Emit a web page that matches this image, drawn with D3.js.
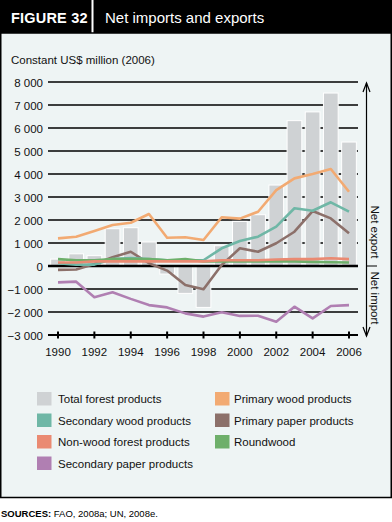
<!DOCTYPE html>
<html>
<head>
<meta charset="utf-8">
<script src="https://cdn.jsdelivr.net/npm/d3@7"></script>
<style>
  html, body { margin: 0; padding: 0; background: #ffffff; }
  svg { display: block; font-family: "Liberation Sans", Arial, Helvetica, sans-serif; }
</style>
</head>
<body>
<svg id="chart" width="392" height="522"></svg>
<script>
// ---------- DATA ----------
const years = [1990,1991,1992,1993,1994,1995,1996,1997,1998,1999,2000,2001,2002,2003,2004,2005,2006];
const totalForest     = [300, 530, 450, 1620, 1665, 1045, -350, -1190, -1800, 880, 1940, 2230, 3520, 6320, 6700, 7520, 5390];
const primaryWood     = [1200, 1270, 1520, 1780, 1880, 2260, 1230, 1250, 1130, 2120, 2060, 2360, 3300, 3810, 4000, 4220, 3230];
const secondaryWood   = [120, 60, 60, 300, 350, 300, 250, 250, 250, 770, 1090, 1275, 1710, 2510, 2400, 2770, 2360];
const primaryPaper    = [-170, -150, 90, 380, 620, 120, -200, -830, -1010, 40, 770, 620, 990, 1490, 2390, 2070, 1420];
const nonWood         = [150, 150, 200, 200, 200, 200, 200, 200, 200, 250, 250, 250, 280, 300, 300, 340, 300];
const roundwood       = [300, 250, 250, 300, 300, 300, 250, 300, 200, 200, 200, 200, 200, 200, 180, 160, 150];
const secondaryPaper  = [-710, -680, -1360, -1140, -1430, -1700, -1800, -2060, -2200, -2010, -2170, -2160, -2420, -1770, -2280, -1740, -1700];
const yTicks = [-3000, -2000, -1000, 0, 1000, 2000, 3000, 4000, 5000, 6000, 7000, 8000];
const xTickYears = [1990, 1992, 1994, 1996, 1998, 2000, 2002, 2004, 2006];

const lineSeries = [
  { name: "Secondary paper products", values: secondaryPaper, color: "#b07fb2" },
  { name: "Primary paper products",   values: primaryPaper,   color: "#8c706a" },
  { name: "Secondary wood products",  values: secondaryWood,  color: "#6fb7a6" },
  { name: "Primary wood products",    values: primaryWood,    color: "#f2aa72" },
  { name: "Roundwood",                values: roundwood,      color: "#6eaf6a" },
  { name: "Non-wood forest products", values: nonWood,        color: "#ea8a72" }
];

const legendItems = [
  { name: "Total forest products",     color: "#cfd2d4", col: 0, row: 0 },
  { name: "Secondary wood products",   color: "#6fb7a6", col: 0, row: 1 },
  { name: "Non-wood forest products",  color: "#ea8a72", col: 0, row: 2 },
  { name: "Secondary paper products",  color: "#b07fb2", col: 0, row: 3 },
  { name: "Primary wood products",     color: "#f2aa72", col: 1, row: 0 },
  { name: "Primary paper products",    color: "#8c706a", col: 1, row: 1 },
  { name: "Roundwood",                 color: "#6eaf6a", col: 1, row: 2 }
];

// ---------- DRAW ----------
const svg = d3.select("#chart");
const W = 392, H = 522;

// title bar
svg.append("rect").attr("x", 0).attr("y", 0).attr("width", W).attr("height", 33).attr("fill", "#000");
svg.append("line").attr("x1", 92.5).attr("x2", 92.5).attr("y1", 0).attr("y2", 33)
  .attr("stroke", "#fff").attr("stroke-width", 2);
svg.append("text").attr("x", 11).attr("y", 23).attr("fill", "#fff")
  .attr("font-size", 14.5).attr("font-weight", "bold").attr("letter-spacing", 0.2).text("FIGURE  32");
svg.append("text").attr("x", 105).attr("y", 23).attr("fill", "#fff")
  .attr("font-size", 15).text("Net imports and exports");

// panel
svg.append("rect").attr("x", 0.75).attr("y", 33).attr("width", W - 1.5).attr("height", 464.5)
  .attr("fill", "#eef4f4").attr("stroke", "#000").attr("stroke-width", 1.5);

// axis title
svg.append("text").attr("x", 11).attr("y", 64).attr("fill", "#111").attr("font-size", 11.5)
  .text("Constant US$ million (2006)");

const x = d3.scaleLinear().domain([1990, 2006]).range([58, 349]);
const y = d3.scaleLinear().domain([-3000, 8000]).range([335, 82]);
const gridX0 = 48, gridX1 = 358;
const barW = 14.7;

const loc = d3.formatLocale({ decimal: ".", thousands: " ", grouping: [3], currency: ["", ""], minus: "\u2212" });
const fmt = loc.format(",");

// gridlines (behind bars)
svg.append("g").selectAll("line").data(yTicks.filter(d => d !== 0 && d !== -3000)).join("line")
  .attr("x1", gridX0).attr("x2", gridX1)
  .attr("y1", d => y(d)).attr("y2", d => y(d))
  .attr("stroke", "#000").attr("stroke-width", 1.6);

// y tick labels
svg.append("g").selectAll("text").data(yTicks).join("text")
  .attr("x", 43).attr("y", d => y(d) + 1).attr("text-anchor", "end")
  .attr("dominant-baseline", "central").attr("font-size", 11.5).attr("fill", "#111")
  .text(d => fmt(d));

// bars
svg.append("g").selectAll("rect").data(years.map((yr, i) => ({ yr, v: totalForest[i] }))).join("rect")
  .attr("x", d => x(d.yr) - barW / 2).attr("width", barW)
  .attr("y", d => y(Math.max(0, d.v))).attr("height", d => Math.abs(y(d.v) - y(0)))
  .attr("fill", "#cfd2d4").attr("stroke", "#fff").attr("stroke-width", 1);

// zero line
svg.append("line").attr("x1", gridX0).attr("x2", gridX1).attr("y1", y(0)).attr("y2", y(0))
  .attr("stroke", "#000").attr("stroke-width", 2.6);

// x axis (at -3000)
const xAxis = svg.append("g");
xAxis.append("line").attr("x1", gridX0).attr("x2", gridX1).attr("y1", y(-3000)).attr("y2", y(-3000))
  .attr("stroke", "#000").attr("stroke-width", 2);
xAxis.selectAll("line.tick").data(xTickYears).join("line").attr("class", "tick")
  .attr("x1", d => x(d)).attr("x2", d => x(d))
  .attr("y1", y(-3000) - 3.5).attr("y2", y(-3000) + 3.5)
  .attr("stroke", "#000").attr("stroke-width", 2);
xAxis.selectAll("text").data(xTickYears).join("text")
  .attr("x", d => x(d)).attr("y", 356).attr("text-anchor", "middle")
  .attr("font-size", 11.5).attr("fill", "#111").text(d => d);

// lines
const lineGen = d3.line().x((d, i) => x(years[i])).y(d => y(d));
svg.append("g").selectAll("path").data(lineSeries).join("path")
  .attr("d", d => lineGen(d.values))
  .attr("fill", "none").attr("stroke", d => d.color).attr("stroke-width", 2.6)
  .attr("stroke-linejoin", "round").attr("stroke-linecap", "butt");

// right side arrow & labels
const ax = 366.5;
svg.append("line").attr("x1", ax).attr("x2", ax).attr("y1", 83).attr("y2", 336)
  .attr("stroke", "#000").attr("stroke-width", 1.2);
svg.append("path").attr("d", `M${ax - 3.5},${92} L${ax},${83} L${ax + 3.5},${92}`)
  .attr("fill", "none").attr("stroke", "#000").attr("stroke-width", 1.2);
svg.append("path").attr("d", `M${ax - 3.5},${327} L${ax},${336} L${ax + 3.5},${327}`)
  .attr("fill", "none").attr("stroke", "#000").attr("stroke-width", 1.2);
svg.append("line").attr("x1", ax).attr("x2", 377).attr("y1", y(0)).attr("y2", y(0))
  .attr("stroke", "#000").attr("stroke-width", 1);
svg.append("text").attr("transform", `translate(371,232) rotate(90)`)
  .attr("text-anchor", "middle").attr("font-size", 11.5).attr("fill", "#111").text("Net export");
svg.append("text").attr("transform", `translate(371,298) rotate(90)`)
  .attr("text-anchor", "middle").attr("font-size", 11.5).attr("fill", "#111").text("Net import");

// legend
const lg = svg.append("g").selectAll("g").data(legendItems).join("g")
  .attr("transform", d => `translate(${d.col ? 215 : 37},${392 + d.row * 21.5})`);
lg.append("rect").attr("width", 14.5).attr("height", 13.5).attr("fill", d => d.color);
lg.append("text").attr("x", d => d.col ? 19 : 21).attr("y", 11).attr("font-size", 11.5)
  .attr("fill", "#111").text(d => d.name);

// sources
const src = svg.append("text").attr("x", 1).attr("y", 517).attr("font-size", 9.5).attr("fill", "#000");
src.append("tspan").attr("font-weight", "bold").text("SOURCES:");
src.append("tspan").text(" FAO, 2008a; UN, 2008e.");
</script>
</body>
</html>
